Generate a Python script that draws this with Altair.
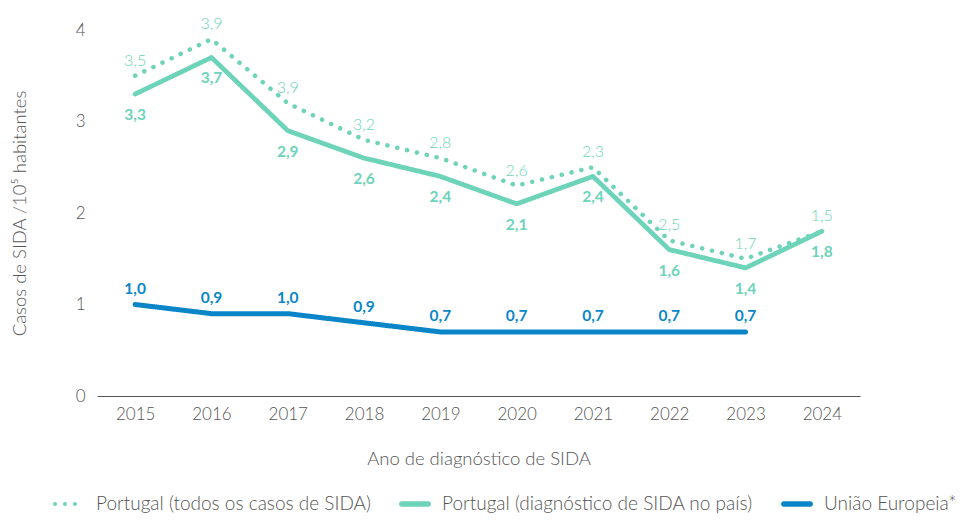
import altair as alt
import pandas as pd

years = [2015, 2016, 2017, 2018, 2019, 2020, 2021, 2022, 2023, 2024]
series_names = [
    "Portugal (todos os casos de SIDA)",
    "Portugal (diagnóstico de SIDA no país)",
    "União Europeia*",
]
pt_all = [3.5, 3.9, 3.2, 2.8, 2.6, 2.3, 2.5, 1.7, 1.5, 1.8]
pt_all_labels = ["3,5", "3,9", "3,9", "3,2", "2,8", "2,6", "2,3", "2,5", "1,7", "1,5"]
pt_local = [3.3, 3.7, 2.9, 2.6, 2.4, 2.1, 2.4, 1.6, 1.4, 1.8]
pt_local_labels = ["3,3", "3,7", "2,9", "2,6", "2,4", "2,1", "2,4", "1,6", "1,4", "1,8"]
eu_years = [2015, 2016, 2017, 2018, 2019, 2020, 2021, 2022, 2023]
eu = [1.0, 0.9, 0.9, 0.8, 0.7, 0.7, 0.7, 0.7, 0.7]
eu_labels = ["1,0", "0,9", "1,0", "0,9", "0,7", "0,7", "0,7", "0,7", "0,7"]

TEAL = "#6dd3b9"
BLUE = "#0a86c8"
GRAY = "#555555"
FONT = "Lato"

rows = []
for y, v, l in zip(years, pt_all, pt_all_labels):
    rows.append({"year": y, "value": v, "label": l, "series": series_names[0]})
for y, v, l in zip(years, pt_local, pt_local_labels):
    rows.append({"year": y, "value": v, "label": l, "series": series_names[1]})
for y, v, l in zip(eu_years, eu, eu_labels):
    rows.append({"year": y, "value": v, "label": l, "series": series_names[2]})
df = pd.DataFrame(rows)

dots_path = (
    "M-1.0,0A0.125,0.125 0 1,0 -0.75,0A0.125,0.125 0 1,0 -1.0,0Z "
    "M-0.375,0A0.125,0.125 0 1,0 -0.125,0A0.125,0.125 0 1,0 -0.375,0Z "
    "M0.25,0A0.125,0.125 0 1,0 0.5,0A0.125,0.125 0 1,0 0.25,0Z"
)
bar_path = "M-0.83,-0.17H0.83A0.17,0.17 0 0,1 0.83,0.17H-0.83A0.17,0.17 0 0,1 -0.83,-0.17Z"

color_scale = alt.Scale(domain=series_names, range=[TEAL, TEAL, BLUE])

x_enc = alt.X(
    "year:O",
    scale=alt.Scale(type="point", padding=0.5),
    axis=alt.Axis(
        title="Ano de diagnóstico de SIDA",
        labelAngle=0,
        ticks=False,
        domainColor="#555555",
        domainWidth=1,
        labelPadding=10,
        titlePadding=27,
    ),
)
y_enc = alt.Y(
    "value:Q",
    scale=alt.Scale(domain=[0, 4], nice=False),
    axis=alt.Axis(
        title="Casos de SIDA /10⁵ habitantes",
        values=[0, 1, 2, 3, 4],
        format="d",
        grid=False,
        ticks=False,
        domain=False,
        labelPadding=12,
        titlePadding=46,
    ),
)

base = alt.Chart(df)

lines = base.mark_line(strokeCap="round", strokeJoin="round").encode(
    x=x_enc,
    y=y_enc,
    color=alt.Color("series:N", scale=color_scale, legend=None),
    strokeDash=alt.StrokeDash(
        "series:N",
        scale=alt.Scale(domain=series_names, range=[[0.1, 10], [1, 0], [1, 0]]),
        legend=None,
    ),
    strokeWidth=alt.StrokeWidth(
        "series:N",
        scale=alt.Scale(domain=series_names, range=[4.5, 5, 5]),
        legend=None,
    ),
    detail="series:N",
)

lbl_all = base.transform_filter(alt.datum.series == series_names[0]).mark_text(
    dy=-15, fontSize=16, font=FONT, fontWeight=300, color=TEAL
).encode(x="year:O", y="value:Q", text="label:N")

lbl_local = base.transform_filter(alt.datum.series == series_names[1]).mark_text(
    dy=21, fontSize=15.5, font=FONT, fontWeight="bold", color=TEAL
).encode(x="year:O", y="value:Q", text="label:N")

lbl_eu = base.transform_filter(alt.datum.series == series_names[2]).mark_text(
    dy=-16, fontSize=15.5, font=FONT, fontWeight="bold", color=BLUE
).encode(x="year:O", y="value:Q", text="label:N")

legend_layer = base.mark_point(filled=True, opacity=1, size=0).encode(
    x="year:O",
    y="value:Q",
    color=alt.Color(
        "series:N",
        scale=color_scale,
        title=None,
        legend=alt.Legend(
            orient="none",
            legendX=-44,
            legendY=458,
            direction="horizontal",
            columns=3,
            columnPadding=28,
            labelOffset=11,
            labelFontSize=19,
            labelFont=FONT,
            labelFontWeight=300,
            labelColor=GRAY,
            labelLimit=500,
            symbolSize=1024,
            symbolStrokeWidth=0,
            symbolOpacity=1,
            padding=0,
        ),
    ),
    shape=alt.Shape(
        "series:N",
        scale=alt.Scale(domain=series_names, range=[dots_path, bar_path, bar_path]),
        title=None,
    ),
)

chart = (
    alt.layer(lines, lbl_all, lbl_local, lbl_eu, legend_layer)
    .resolve_legend(color="independent", shape="independent")
    .properties(
        width=763,
        height=366,
        autosize=alt.AutoSizeParams(type="none"),
        padding={"left": 89, "top": 22, "right": 102, "bottom": 121},
    )
    .configure_view(stroke=None)
    .configure_axis(
        labelFont=FONT,
        titleFont=FONT,
        labelFontSize=17,
        titleFontSize=18.5,
        labelColor=GRAY,
        titleColor=GRAY,
        labelFontWeight=300,
        titleFontWeight=300,
    )
)

chart.save("out.html", embed_options={"renderer": "svg", "actions": False})
